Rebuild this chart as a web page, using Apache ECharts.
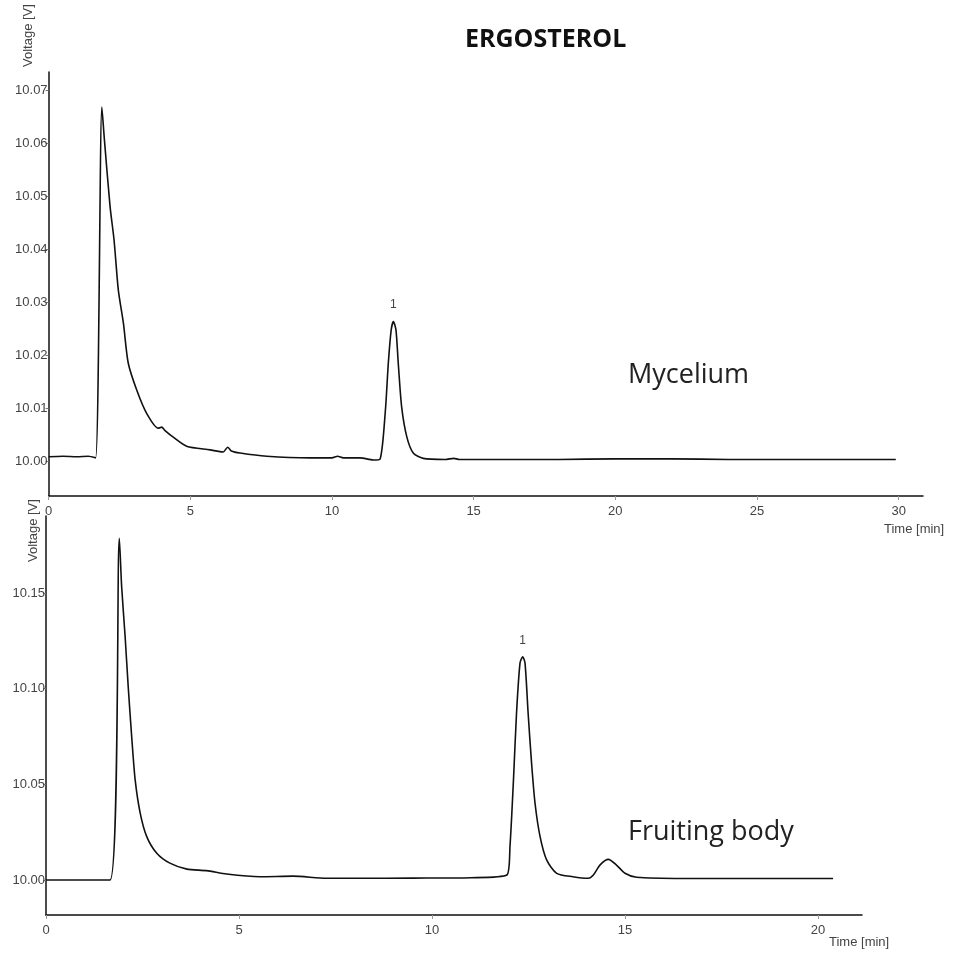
<!DOCTYPE html>
<html>
<head>
<meta charset="utf-8">
<script src="https://cdn.jsdelivr.net/npm/echarts@6/dist/echarts.min.js"></script>
<style>
  html, body { margin: 0; padding: 0; background: #fff; }
  #chart { width: 954px; height: 956px; }
</style>
</head>
<body>
<div id="chart"></div>
<script>
// Mycelium chromatogram (top)
const timeTop = [0, 0.5, 1.0, 1.4, 1.66, 1.88, 1.97, 2.17, 2.31, 2.46, 2.64, 2.81, 3.11, 3.46, 3.87, 3.99, 4.10,
  4.40, 4.87, 5.70, 6.16, 6.32, 6.45, 6.76, 7.70, 9.23, 10.0, 10.2, 10.4, 10.99, 11.46, 11.70, 11.88, 11.99,
  12.09, 12.17, 12.26, 12.34, 12.46, 12.64, 12.87, 13.22, 14.0, 14.3, 14.5, 16, 18, 20, 22, 24, 26, 28, 29.9];
const voltTop = [10.0008, 10.0009, 10.0008, 10.0009, 10.0006, 10.0668, 10.0606, 10.0480, 10.0417, 10.0323,
  10.0260, 10.0185, 10.0134, 10.0090, 10.0062, 10.0064, 10.0058, 10.0045, 10.0028, 10.0021, 10.0017, 10.0026,
  10.0019, 10.0015, 10.0009, 10.0006, 10.0006, 10.0009, 10.0006, 10.0006, 10.0002, 10.0004, 10.0091, 10.0185,
  10.0247, 10.0263, 10.0247, 10.0185, 10.0102, 10.0046, 10.0015, 10.0005, 10.0003, 10.0005, 10.0003, 10.0003,
  10.0003, 10.0004, 10.0004, 10.0003, 10.0003, 10.0003, 10.0003];

// Fruiting body chromatogram (bottom)
const timeBottom = [0, 0.8, 1.66, 1.90, 1.96, 2.05, 2.13, 2.22, 2.31, 2.44, 2.61, 2.87, 3.21, 3.65, 4.16, 4.68,
  5.54, 6.40, 7.27, 8.13, 9.5, 11.0, 11.94, 12.02, 12.11, 12.19, 12.28, 12.35, 12.41, 12.49, 12.58, 12.67,
  12.80, 12.97, 13.23, 13.65, 14.05, 14.18, 14.35, 14.57, 14.78, 15.0, 15.3, 16.5, 18, 19.5, 20.39];
const voltBottom = [10.0000, 10.0000, 10.0000, 10.1786, 10.1533, 10.1272, 10.1010, 10.0749, 10.0523, 10.0350,
  10.0227, 10.0140, 10.0088, 10.0057, 10.0049, 10.0031, 10.0017, 10.0020, 10.0009, 10.0009, 10.0010, 10.0012,
  10.0026, 10.0174, 10.0520, 10.0873, 10.1134, 10.1167, 10.1134, 10.0873, 10.0610, 10.0400, 10.0227, 10.0105,
  10.0035, 10.0017, 10.0009, 10.0026, 10.0078, 10.0108, 10.0078, 10.0035, 10.0014, 10.0008, 10.0008, 10.0008,
  10.0008];

// tick labels
const xTicksTop = [0, 5, 10, 15, 20, 25, 30];
const yTicksTop = [10.00, 10.01, 10.02, 10.03, 10.04, 10.05, 10.06, 10.07];
const xTicksBottom = [0, 5, 10, 15, 20];
const yTicksBottom = [10.00, 10.05, 10.10, 10.15];

// labelled peaks ("1")
const peakTop = [12.17, 10.0263];
const peakBottom = [12.35, 10.1167];

const zip = (xs, ys) => xs.map((x, i) => [x, ys[i]]);

const labelFont = { color: '#444', fontSize: 13, fontFamily: 'Liberation Sans, Arial, sans-serif' };
const smallFont = '13px "Liberation Sans", Arial, sans-serif';

const xAxisBase = (idx, max, ticks) => ({
  type: 'value',
  gridIndex: idx,
  min: 0,
  max: max,
  axisLine: { lineStyle: { color: '#111', width: 1.5 } },
  axisTick: { customValues: ticks, length: 4, lineStyle: { color: '#999' } },
  axisLabel: Object.assign({ customValues: ticks, margin: 9, formatter: (v) => String(v) }, labelFont),
  splitLine: { show: false }
});

const yAxisBase = (idx, min, max, ticks) => ({
  type: 'value',
  gridIndex: idx,
  min: min,
  max: max,
  axisLine: { show: true, lineStyle: { color: '#111', width: 1.5 } },
  axisTick: { show: true, customValues: ticks, length: 3, lineStyle: { color: '#777' } },
  axisLabel: Object.assign({ customValues: ticks, margin: 1, formatter: (v) => v.toFixed(2) }, labelFont),
  splitLine: { show: false }
});

const peakMark = (coord) => ({
  symbol: 'circle',
  symbolSize: 1,
  itemStyle: { color: 'transparent' },
  label: Object.assign({ show: true, position: 'top', distance: 10, formatter: '1' }, labelFont, { fontSize: 12 }),
  data: [{ coord: coord }]
});

const chart = echarts.init(document.getElementById('chart'));

const option = {
  backgroundColor: '#fff',
  animation: false,
  grid: [
    { left: 48.6, top: 72, right: 31, height: 424 },
    { left: 46, top: 516, right: 92, height: 399 }
  ],
  xAxis: [
    xAxisBase(0, 30.86, xTicksTop),
    xAxisBase(1, 21.14, xTicksBottom)
  ],
  yAxis: [
    yAxisBase(0, 9.9934, 10.0734, yTicksTop),
    yAxisBase(1, 9.9817, 10.1903, yTicksBottom)
  ],
  series: [
    {
      name: 'Mycelium',
      type: 'line',
      xAxisIndex: 0,
      yAxisIndex: 0,
      data: zip(timeTop, voltTop),
      showSymbol: false,
      smooth: 0.25,
      lineStyle: { color: '#111', width: 1.6 },
      markPoint: peakMark(peakTop)
    },
    {
      name: 'Fruiting body',
      type: 'line',
      xAxisIndex: 1,
      yAxisIndex: 1,
      data: zip(timeBottom, voltBottom),
      showSymbol: false,
      smooth: 0.25,
      lineStyle: { color: '#111', width: 1.6 },
      markPoint: peakMark(peakBottom)
    }
  ],
  graphic: [
    {
      type: 'text', left: 465, top: 27,
      style: { text: 'ERGOSTEROL', fill: '#111', font: 'bold 25px "Open Sans", sans-serif' }
    },
    {
      type: 'text', left: 628, top: 362,
      style: { text: 'Mycelium', fill: '#222', font: '27px "Open Sans", sans-serif' }
    },
    {
      type: 'text', left: 628, top: 819,
      style: { text: 'Fruiting body', fill: '#222', font: '27px "Open Sans", sans-serif' }
    },
    {
      type: 'text', x: 22, y: 67, rotation: Math.PI / 2,
      style: { text: 'Voltage [V]', fill: '#444', font: smallFont, textVerticalAlign: 'top' }
    },
    {
      type: 'text', x: 27, y: 562, rotation: Math.PI / 2,
      style: { text: 'Voltage [V]', fill: '#444', font: smallFont, textVerticalAlign: 'top' }
    },
    {
      type: 'text', left: 884, top: 523,
      style: { text: 'Time [min]', fill: '#444', font: smallFont }
    },
    {
      type: 'text', left: 829, top: 936,
      style: { text: 'Time [min]', fill: '#444', font: smallFont }
    }
  ]
};

chart.setOption(option);
</script>
</body>
</html>
